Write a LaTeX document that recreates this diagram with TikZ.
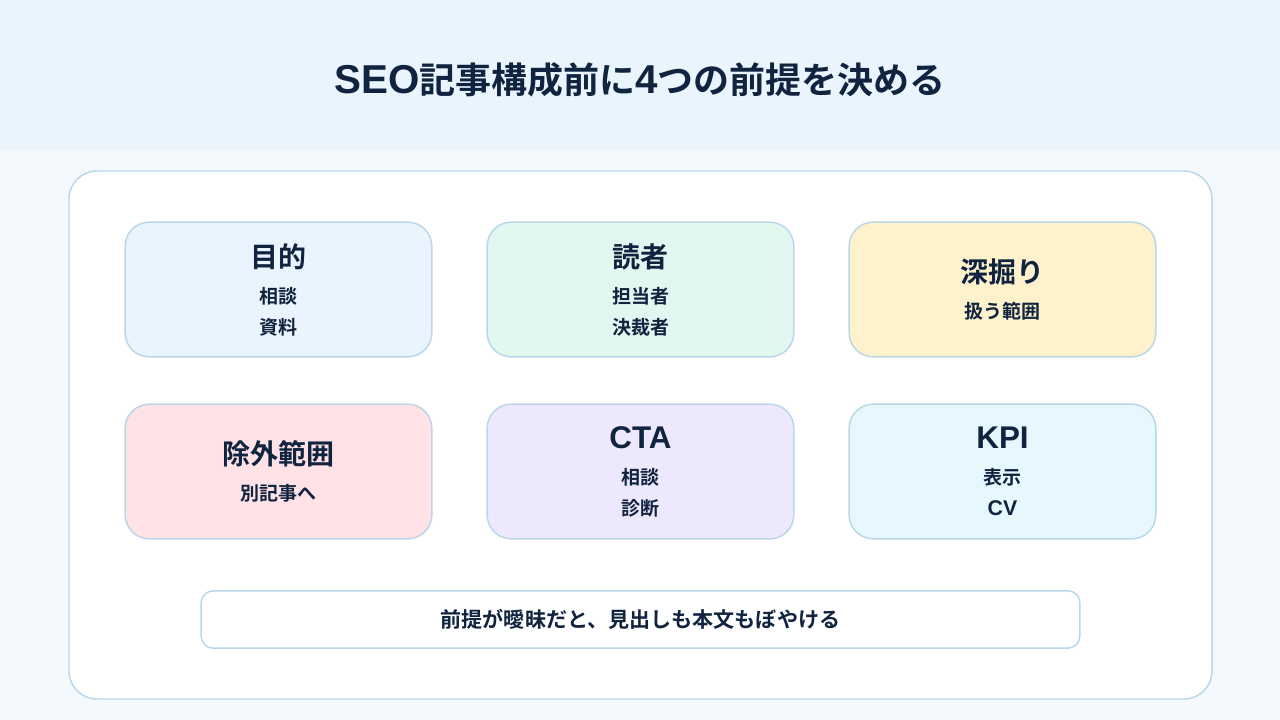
\documentclass[tikz,border=0pt]{standalone}
\usepackage{fontspec}
\setmainfont{Noto Sans CJK JP}[BoldFont={Noto Sans CJK JP Bold}]
\newfontfamily\latinfont{Liberation Sans}[Scale=1.12]
\usetikzlibrary{positioning}
\definecolor{ink}{HTML}{10233F}
\definecolor{edge}{HTML}{B9D7E9}
\definecolor{bandfill}{HTML}{E9F4FD}
\definecolor{pagefill}{HTML}{F4F9FE}
\definecolor{goalfill}{HTML}{EAF4FE}
\definecolor{readerfill}{HTML}{E1F7EF}
\definecolor{depthfill}{HTML}{FEF2CD}
\definecolor{skipfill}{HTML}{FEE2E6}
\definecolor{ctafill}{HTML}{EEE8FD}
\definecolor{kpifill}{HTML}{E6F8FD}
\newcommand{\headfont}{\fontsize{21}{26}\selectfont\bfseries}
\newcommand{\subfont}{\fontsize{14.25}{23.25}\selectfont\bfseries}
\newcommand{\lat}[1]{{\latinfont\bfseries #1}}
\tikzset{
  card/.style    = {rectangle, rounded corners=18pt, draw=edge, line width=1.1pt,
                    minimum width=230pt, minimum height=101pt, align=center,
                    text=ink, font=\subfont},
  panel/.style   = {rectangle, rounded corners=21pt, draw=edge, line width=1.1pt, fill=white},
  notebox/.style = {rectangle, rounded corners=9pt, draw=edge, line width=1.1pt, fill=white,
                    minimum width=659pt, minimum height=43pt, text=ink,
                    font=\fontsize{15.8}{19}\selectfont\bfseries}
}

\begin{document}
\begin{tikzpicture}[x=0.75pt, y=-0.75pt]
        % background and header band
        \fill[pagefill] (0,0) rectangle (1280,720);
        \fill[bandfill] (0,0) rectangle (1280,150);
        \node[text=ink, font=\fontsize{27}{32}\selectfont\bfseries] (title) at (640,80) {\lat{SEO}記事構成前に\lat{4}つの前提を決める};
        \draw[panel] (69,171) rectangle (1212,699);

        % six premise cards
        \node[card, fill=goalfill]   (goal)   at (278.5,289.5)  {{\headfont 目的}\\[3.75pt]相談\\資料};
        \node[card, fill=readerfill] (reader) at (640.5,289.5)  {{\headfont 読者}\\[3.75pt]担当者\\決裁者};
        \node[card, fill=depthfill]  (depth)  at (1002.5,289.5) {{\headfont 深掘り}\\[3.75pt]扱う範囲};
        \node[card, fill=skipfill]   (skip)   at (278.5,471.5)  {{\headfont 除外範囲}\\[3.75pt]別記事へ};
        \node[card, fill=ctafill]    (cta)    at (640.5,471.5)  {{\headfont\lat{CTA}}\\[3.75pt]相談\\診断};
        \node[card, fill=kpifill]    (kpi)    at (1002.5,471.5) {{\headfont\lat{KPI}}\\[3.75pt]表示\\\lat{CV}};

        % closing note
        \node[notebox] (note) at (640.5,619.5) {前提が曖昧だと、見出しも本文もぼやける};
      \end{tikzpicture}
\end{document}
